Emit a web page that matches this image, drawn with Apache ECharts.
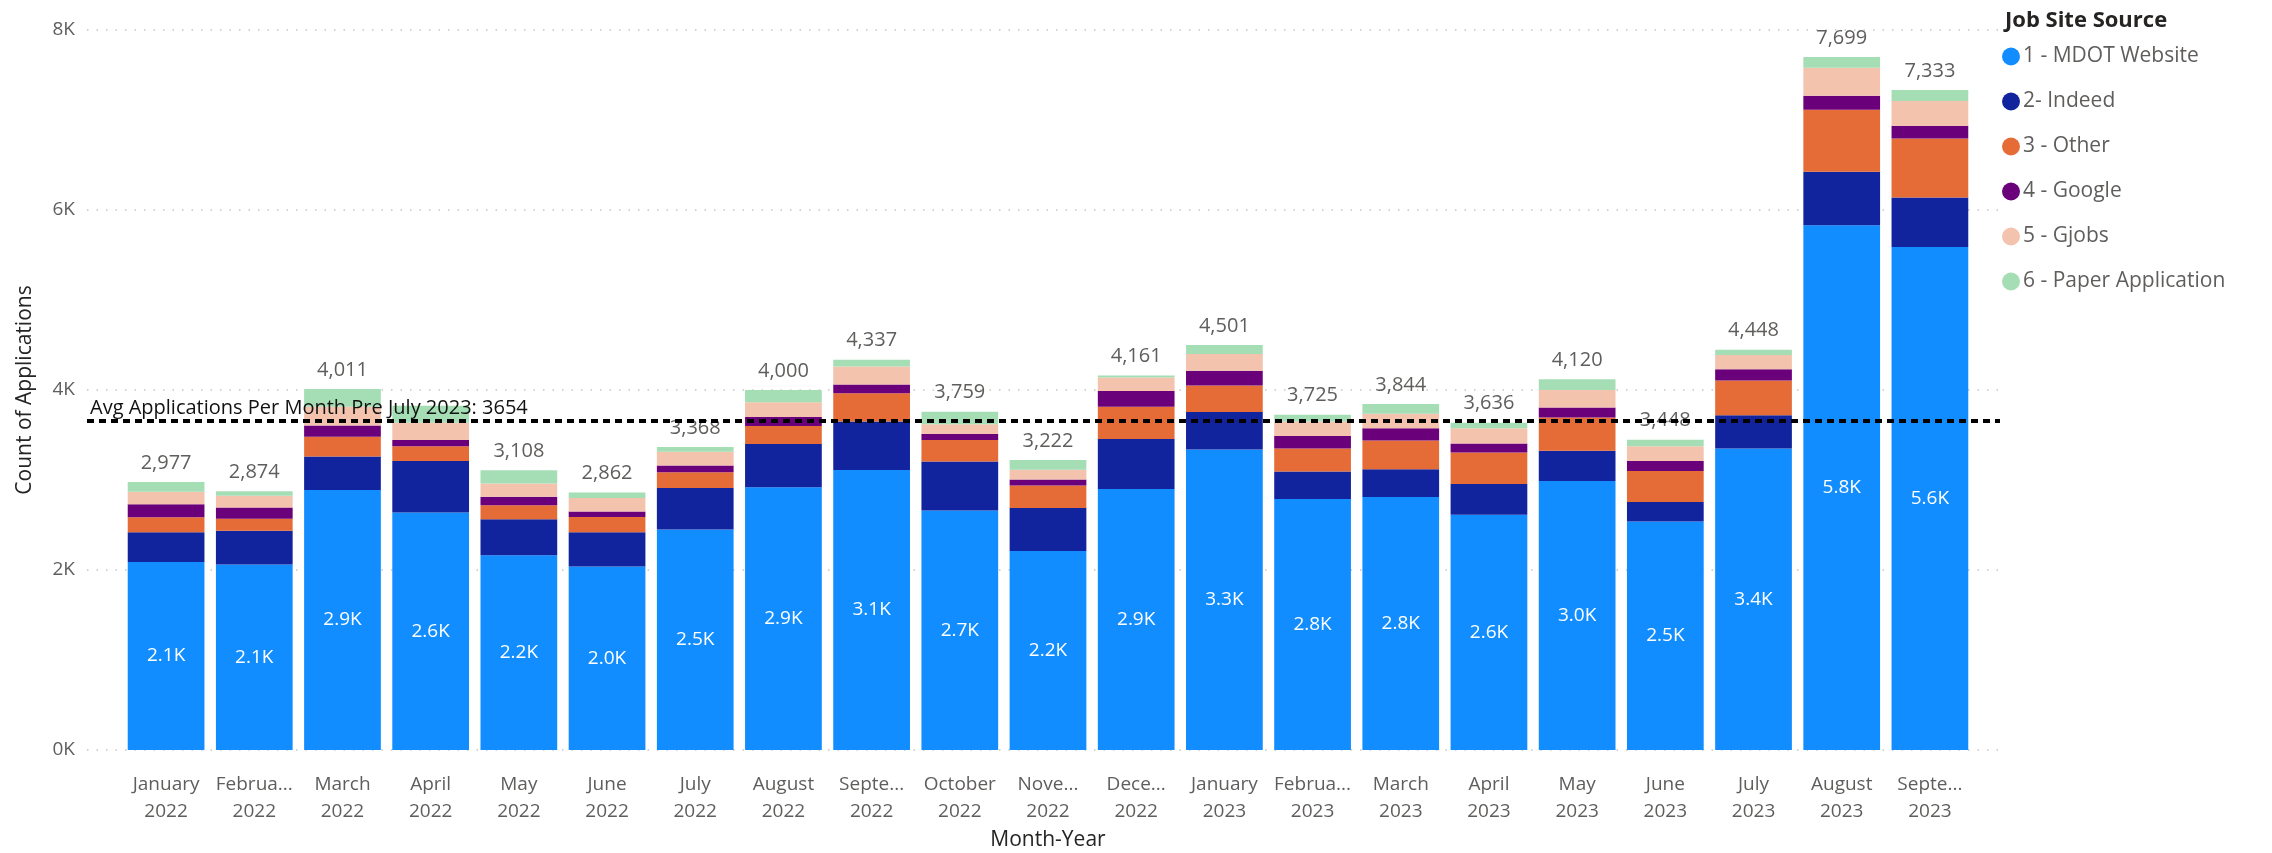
<!DOCTYPE html>
<html><head><meta charset="utf-8">
<script src="https://cdn.jsdelivr.net/npm/echarts@6.0.0/dist/echarts.min.js"></script>
<style>html,body{margin:0;padding:0;background:#fff}#c{width:2272px;height:853px}</style>
</head><body><div id="c"></div>
<script>
const categories = ['January 2022','February 2022','March 2022','April 2022','May 2022','June 2022','July 2022','August 2022','September 2022','October 2022','November 2022','December 2022','January 2023','February 2023','March 2023','April 2023','May 2023','June 2023','July 2023','August 2023','September 2023'];
const tickLabels = ['January\n2022','Februa...\n2022','March\n2022','April\n2022','May\n2022','June\n2022','July\n2022','August\n2022','Septe...\n2022','October\n2022','Nove...\n2022','Dece...\n2022','January\n2023','Februa...\n2023','March\n2023','April\n2023','May\n2023','June\n2023','July\n2023','August\n2023','Septe...\n2023'];
const seriesNames = ['1 - MDOT Website','2- Indeed','3 - Other','4 - Google','5 - Gjobs','6 - Paper Application'];
const mdotWebsite      = [2090,2060,2890,2640,2165,2040,2450,2920,3110,2660,2210,2900,3340,2790,2810,2615,2990,2540,3350,5830,5590];
const indeed           = [330,375,370,570,400,380,460,480,540,545,480,555,415,305,310,340,335,215,370,595,550];
const other            = [165,135,220,165,155,170,175,200,315,240,250,360,295,255,320,350,370,345,385,690,655];
const google           = [145,125,125,70,95,60,75,100,95,65,65,175,165,140,135,100,110,110,125,155,140];
const gjobs            = [140,130,210,190,145,150,155,165,200,110,110,150,185,160,160,170,195,165,160,310,275];
const paperApplication = [107,49,196,190,148,62,53,135,77,139,107,21,101,75,109,61,120,73,58,119,123];
const avgPreJuly2023 = 3654;
const avgLabel = 'Avg Applications Per Month Pre July 2023: ' + avgPreJuly2023;
const hiddenTotalLabels = ['April 2022'];
const yMin = 0, yMax = 8000, yInterval = 2000;

const colors = ['#118DFF','#12239E','#E66C37','#6B007B','#F3C3AD','#A5DEB4'];
const seriesData = [mdotWebsite, indeed, other, google, gjobs, paperApplication];
const totals = categories.map((_, i) => seriesData.reduce((s, arr) => s + arr[i], 0));
const FONT = '"Segoe UI", "Open Sans", sans-serif';

const chart = echarts.init(document.getElementById('c'), null, {renderer: 'canvas'});

const barSeries = seriesData.map((d, k) => {
  const s = {
    name: seriesNames[k], type: 'bar', stack: 'total', data: d,
    xAxisIndex: 0, yAxisIndex: 0,
    barCategoryGap: '13%',
    itemStyle: {color: colors[k]},
    emphasis: {disabled: true}
  };
  if (k === 0) {
    s.label = {show: true, position: 'inside', color: '#FFFFFF', fontSize: 19, fontFamily: FONT,
      formatter: p => (p.value / 1000).toFixed(1) + 'K'};
  }
  if (k === seriesData.length - 1) {
    s.label = {show: true, position: 'top', distance: 9, color: '#605E5C', fontSize: 20, fontFamily: FONT,
      formatter: p => hiddenTotalLabels.includes(categories[p.dataIndex]) ? '' : totals[p.dataIndex].toLocaleString('en-US')};
  }
  return s;
});

const option = {
  backgroundColor: '#FFFFFF',
  animation: false,
  textStyle: {fontFamily: FONT},
  title: {text: 'Job Site Source', left: 2000, top: 5,
    textStyle: {fontSize: 22, fontWeight: 'bold', color: '#252423', fontFamily: FONT}},
  legend: {
    data: seriesNames, orient: 'vertical', left: 2002, top: 46, padding: 0,
    icon: 'circle', itemWidth: 18, itemHeight: 18, itemGap: 24, itemStyle: {borderWidth: 0},
    textStyle: {fontSize: 21, color: '#605E5C', fontFamily: FONT, lineHeight: 21, padding: [0, 0, 0, -2]}
  },
  grid: [
    {left: 122, right: 298, top: 30, bottom: 103, outerBoundsMode: 'none', containLabel: false},
    {left: 87, right: 272, top: 30, bottom: 103, outerBoundsMode: 'none', containLabel: false}
  ],
  xAxis: [
    {type: 'category', gridIndex: 0, data: categories,
      axisLine: {show: false}, axisTick: {show: false},
      axisLabel: {interval: 0, margin: 21, color: '#605E5C', fontSize: 19, lineHeight: 27, fontFamily: FONT,
        formatter: (v, i) => tickLabels[i]},
      name: 'Month-Year', nameLocation: 'middle', nameGap: 79,
      nameTextStyle: {fontSize: 21, color: '#252423', fontFamily: FONT}},
    {type: 'value', gridIndex: 1, min: 0, max: 1, show: false}
  ],
  yAxis: [
    {type: 'value', gridIndex: 0, min: yMin, max: yMax, interval: yInterval, show: false},
    {type: 'value', gridIndex: 1, min: yMin, max: yMax, interval: yInterval,
      axisLine: {show: false}, axisTick: {show: false},
      axisLabel: {margin: 12, color: '#605E5C', fontSize: 19, fontFamily: FONT,
        formatter: v => (v / 1000) + 'K'},
      splitLine: {show: true, lineStyle: {color: '#C8C6C4', width: 1.5, type: [1.5, 8]}},
      name: 'Count of Applications', nameLocation: 'middle', nameGap: 51, nameRotate: 90,
      nameTextStyle: {fontSize: 21, color: '#252423', fontFamily: FONT}}
  ],
  series: barSeries.concat([{
    name: 'avg', type: 'line', xAxisIndex: 1, yAxisIndex: 1, data: [], z: 10,
    markLine: {
      silent: true, symbol: 'none',
      lineStyle: {color: '#000000', width: 4, type: [7, 5]},
      label: {show: true, position: 'insideStartTop', formatter: avgLabel, color: '#111111',
        fontSize: 20, fontFamily: FONT, distance: [3, 3]},
      data: [{yAxis: avgPreJuly2023}]
    }
  }])
};
chart.setOption(option);
</script></body></html>
